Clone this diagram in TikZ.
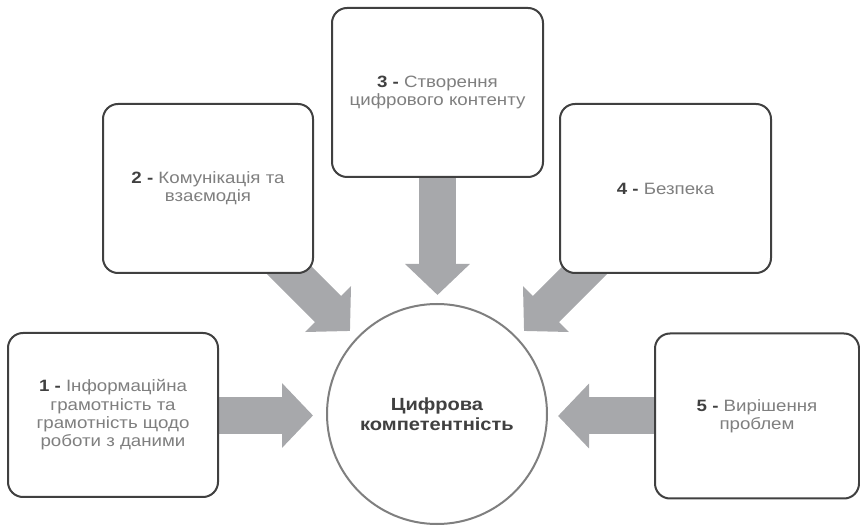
\documentclass[tikz,border=0pt]{standalone}
\usepackage{fontspec}
\setmainfont[FakeStretch=1.14]{Liberation Sans}
\usetikzlibrary{arrows.meta}
\definecolor{boxline}{HTML}{404040}
\definecolor{ringline}{HTML}{7F7F7F}
\definecolor{arrowfill}{HTML}{A7A8AB}
\definecolor{numtext}{HTML}{404040}
\definecolor{bodytext}{HTML}{7F7F7F}
\newcommand{\areanum}[1]{\textcolor{numtext}{\bfseries #1 -} }
\begin{document}
\begin{tikzpicture}[x=1pt,y=-1pt,
  area/.style={draw=boxline, line width=2pt, rounded corners=15pt, fill=white,
    inner sep=0pt, align=center, text=bodytext,
    font=\fontsize{16.4}{18.3}\selectfont},
  core/.style={circle, draw=ringline, line width=2pt, fill=white,
    minimum size=220pt, inner sep=0pt, align=center, text=numtext,
    font=\bfseries\fontsize{17.6}{19.5}\selectfont},
  feed/.style={draw=arrowfill, line width=37pt,
    -{Triangle[width=63pt,length=31pt]}}
]
\useasboundingbox (0,0) rectangle (860,526);

% arrow end points
\coordinate (t1) at (313,415.5);
\coordinate (t2) at (350,331);
\coordinate (t3) at (437.5,295);
\coordinate (t4) at (524,331);
\coordinate (t5) at (558,416);
\coordinate (s2) at (262,243);
\coordinate (s4) at (612,243);

% arrows go first so the boxes cover their starts
\draw[feed] (113,415.5) -- (t1);
\draw[feed] (s2) -- (t2);
\draw[feed] (437.5,92.5) -- (t3);
\draw[feed] (s4) -- (t4);
\draw[feed] (757,416) -- (t5);

\node[area, minimum width=210pt, minimum height=164pt] (a1) at (113,415)
  {\areanum{1}Інформаційна\\грамотність та\\грамотність щодо\\роботи з даними};
\node[area, minimum width=210pt, minimum height=169pt] (a2) at (208,188.5)
  {\areanum{2}Комунікація та\\взаємодія};
\node[area, minimum width=211pt, minimum height=169pt] (a3) at (437.5,92.5)
  {\areanum{3}Створення\\цифрового контенту};
\node[area, minimum width=211pt, minimum height=169pt] (a4) at (665.5,188.5)
  {\areanum{4}Безпека};
\node[area, minimum width=204pt, minimum height=165pt] (a5) at (757,416)
  {\areanum{5}Вирішення\\проблем};

\node[core] (c) at (437,414) {Цифрова\\компетентність};
\end{tikzpicture}
\end{document}
